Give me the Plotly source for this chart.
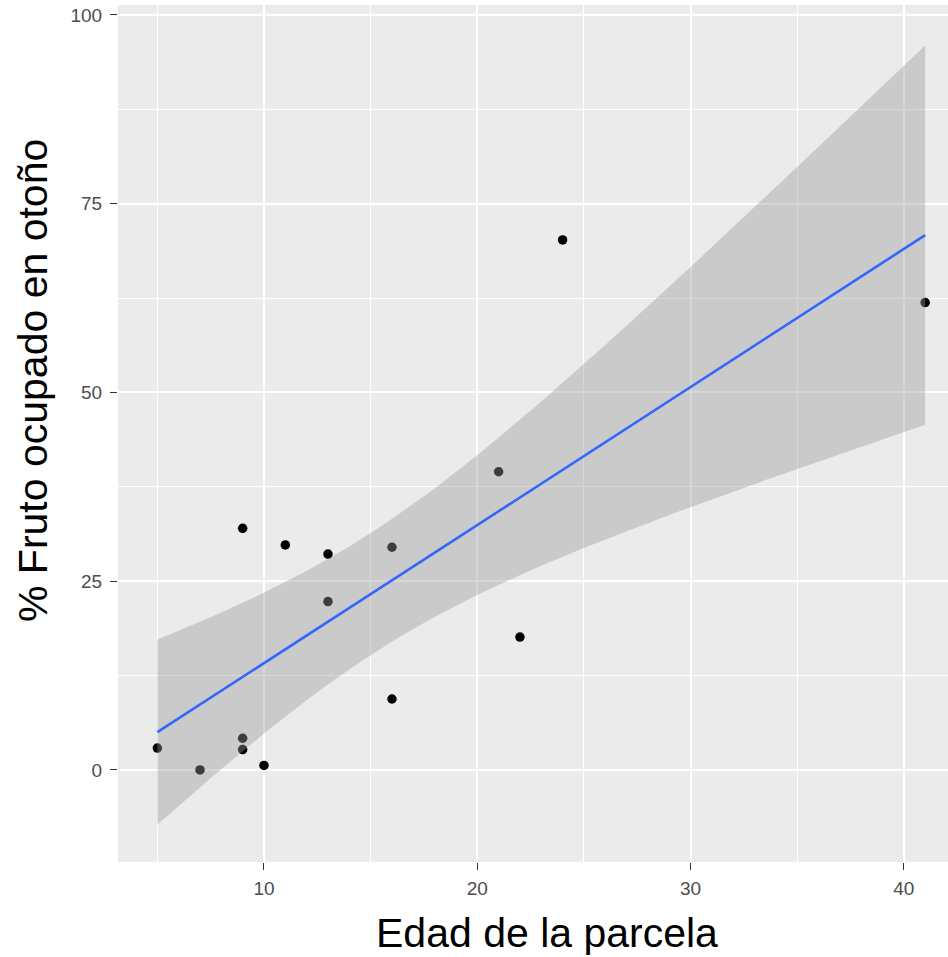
import numpy as np
import plotly.graph_objects as go

# Data
edad = [5, 7, 9, 9, 9, 10, 11, 13, 13, 16, 16, 21, 22, 24, 41]
fruto = [2.9, 0.0, 32.0, 4.2, 2.7, 0.6, 29.8, 28.6, 22.3, 29.5, 9.4, 39.5, 17.6, 70.2, 61.9]

x_ticks = [10, 20, 30, 40]
y_ticks = [0, 25, 50, 75, 100]

x_title = "Edad de la parcela"
y_title = "% Fruto ocupado en otoño"

# Linear model fit (as geom_smooth(method="lm")) with 95% CI
x = np.array(edad, dtype=float)
y = np.array(fruto, dtype=float)
n = len(x)
slope, intercept = np.polyfit(x, y, 1)
resid = y - (intercept + slope * x)
s = np.sqrt(np.sum(resid ** 2) / (n - 2))
sxx = np.sum((x - x.mean()) ** 2)
t_crit = 2.160369  # t(0.975, df=13)
xg = np.linspace(x.min(), x.max(), 80)
yg = intercept + slope * xg
se = s * np.sqrt(1 / n + (xg - x.mean()) ** 2 / sxx)
lo = yg - t_crit * se
hi = yg + t_crit * se

fig = go.Figure()
fig.add_trace(go.Scatter(x=edad, y=fruto, mode="markers",
                         marker=dict(color="black", size=9.5, line=dict(width=0)),
                         showlegend=False, hoverinfo="x+y"))
fig.add_trace(go.Scatter(x=np.concatenate([xg, xg[::-1]]),
                         y=np.concatenate([hi, lo[::-1]]),
                         mode="lines", fill="toself",
                         fillcolor="rgba(153,153,153,0.4)",
                         line=dict(width=0), showlegend=False, hoverinfo="skip"))
fig.add_trace(go.Scatter(x=xg, y=yg, mode="lines",
                         line=dict(color="#3366FF", width=2.6),
                         showlegend=False))

W, H = 948, 957
ml, mr, mt, mb = 118, 0, 5, 95
pw, ph = W - ml - mr, H - mt - mb

fig.update_layout(
    width=W, height=H,
    margin=dict(l=ml, r=mr, t=mt, b=mb, pad=0),
    paper_bgcolor="white",
    plot_bgcolor="#EBEBEB",
    font=dict(family="Liberation Sans, Arial, sans-serif"),
    xaxis=dict(
        range=[3.155, 42.07],
        tickmode="array", tickvals=x_ticks, ticktext=[str(v) for v in x_ticks],
        showgrid=True, gridcolor="white", gridwidth=2.2,
        minor=dict(tickmode="array", tickvals=[5, 15, 25, 35], showgrid=True,
                   gridcolor="white", gridwidth=1.1, ticks=""),
        zeroline=False, showline=False, automargin=False,
        ticks="outside", ticklen=7, tickwidth=1.2, tickcolor="#333333",
        ticklabelstandoff=2,
        tickfont=dict(size=19, color="#4D4D4D"),
    ),
    yaxis=dict(
        range=[-12.19, 101.32],
        tickmode="array", tickvals=y_ticks, ticktext=[str(v) for v in y_ticks],
        showgrid=True, gridcolor="white", gridwidth=2.2,
        minor=dict(tickmode="array", tickvals=[12.5, 37.5, 62.5, 87.5], showgrid=True,
                   gridcolor="white", gridwidth=1.1, ticks=""),
        zeroline=False, showline=False, automargin=False,
        ticks="outside", ticklen=7, tickwidth=1.2, tickcolor="#333333",
        ticklabelstandoff=4,
        tickfont=dict(size=19, color="#4D4D4D"),
    ),
    annotations=[
        dict(text=x_title, xref="paper", yref="paper",
             x=(546.5 - ml) / pw, y=(862 - 933) / ph,
             xanchor="center", yanchor="middle", showarrow=False,
             font=dict(size=41, color="black")),
        dict(text=y_title, xref="paper", yref="paper",
             x=(33 - ml) / pw, y=(862 - 381) / ph, textangle=-90,
             xanchor="center", yanchor="middle", showarrow=False,
             font=dict(size=41, color="black")),
    ],
)

fig.write_html("out.html",
               config={"displayModeBar": False},
               post_script="document.body.style.margin='0';document.body.style.overflow='hidden';")
